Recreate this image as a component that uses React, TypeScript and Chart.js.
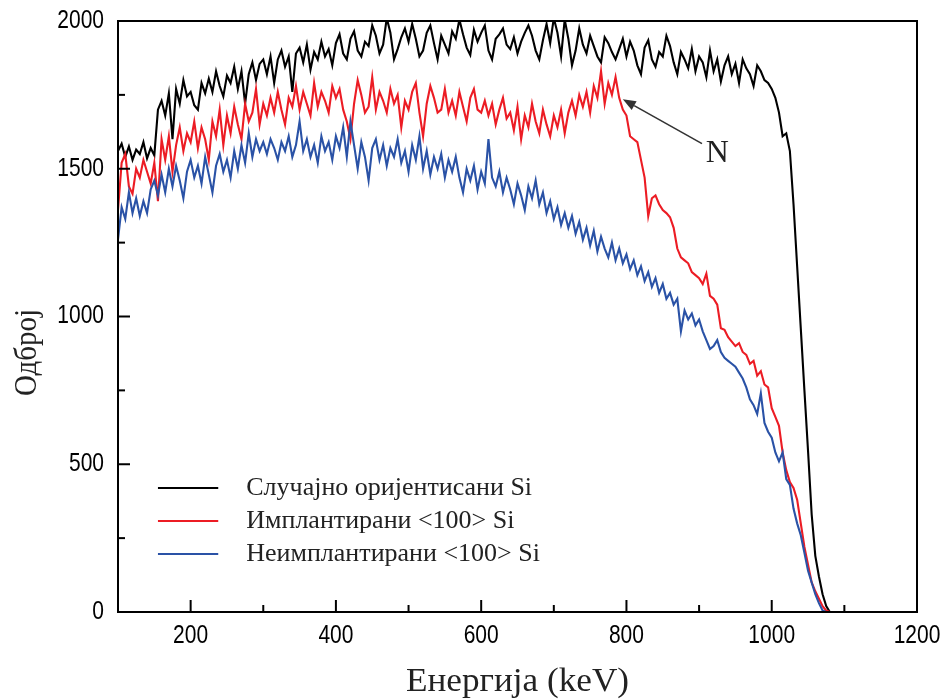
import React, { useEffect, useRef } from "react";
import { Chart, registerables } from "chart.js";

Chart.register(...registerables);

// Energy grid of the spectra (keV): first channel and channel width
const E_START = 100;
const E_STEP = 5;

// Случајно оријентисани Si (black)
const randomSi = [
  1560, 1585, 1540, 1575, 1530, 1565, 1550, 1590, 1535, 1570,
  1545, 1700, 1730, 1680, 1755, 1600, 1770, 1720, 1800, 1745,
  1760, 1715, 1700, 1790, 1755, 1805, 1760, 1830, 1780, 1745,
  1815, 1790, 1845, 1770, 1830, 1720, 1820, 1860, 1800, 1855,
  1870, 1820, 1880, 1790, 1870, 1900, 1845, 1880, 1760, 1890,
  1910, 1860, 1920, 1835, 1895, 1870, 1930, 1880, 1905, 1850,
  1925, 1955, 1890, 1870, 1940, 1965, 1900, 1880, 1930, 1915,
  1985, 1950, 1890, 1920, 2010, 1960, 1870, 1905, 1945, 1975,
  1930, 1990, 1940, 1880, 1900, 1960, 1985, 1925, 1870, 1950,
  1920, 1890, 1965, 1940, 2005, 1955, 1910, 1885, 1970, 1930,
  1960, 1985, 1900, 1870, 1940, 1955, 1975, 1920, 1905, 1945,
  1890, 1930, 1960, 1985, 1950, 1900, 1870, 1935, 1990, 1925,
  2010, 1960, 1880, 2005, 1940, 1850, 1900, 1975, 1920, 1890,
  1950, 1915, 1880, 1860, 1945, 1925, 1895, 1870, 1905, 1940,
  1880, 1930, 1900, 1850, 1820, 1910, 1935, 1870, 1845, 1895,
  1880, 1950, 1915, 1860, 1820, 1895, 1870, 1840, 1905, 1830,
  1880, 1860, 1810, 1900, 1830, 1870, 1795, 1850, 1880, 1820,
  1855, 1790, 1870, 1840, 1820, 1780, 1850, 1830, 1800, 1790,
  1770, 1740, 1690, 1610, 1620, 1560, 1380, 1170, 960, 750,
  545, 330, 190, 120, 60, 20, 0, 0, 0, 0,
  0, 0, 0, 0, 0,
];

// Имплантирани <100> Si (red)
const implanted = [
  1360, 1520, 1550, 1440, 1415, 1500, 1470, 1530, 1490, 1450,
  1520, 1390, 1600, 1530, 1610, 1490, 1580, 1640, 1560, 1620,
  1590, 1660, 1570, 1640, 1600, 1530, 1660, 1610, 1700, 1580,
  1680, 1620, 1710, 1650, 1600, 1720, 1660, 1690, 1770, 1650,
  1720, 1680, 1740, 1690, 1760, 1700, 1650, 1740, 1710, 1780,
  1700, 1760, 1720, 1680, 1790, 1710, 1760, 1730, 1690, 1780,
  1740, 1770, 1700, 1660, 1600, 1720, 1800, 1750, 1690, 1710,
  1810, 1700, 1760, 1730, 1690, 1770, 1720, 1750, 1640, 1730,
  1700, 1760, 1790, 1690, 1610, 1720, 1780, 1740, 1690, 1700,
  1770, 1690, 1730, 1680, 1760, 1710, 1660, 1740, 1770, 1700,
  1690, 1730, 1680, 1720, 1650, 1700, 1740, 1670, 1690, 1630,
  1710, 1600, 1680, 1640, 1720, 1660, 1620, 1700, 1650, 1610,
  1680, 1640, 1700, 1620, 1690, 1730, 1680, 1750, 1710, 1760,
  1690, 1780, 1740, 1830, 1720, 1790, 1750, 1810, 1740, 1700,
  1680, 1610, 1600, 1590, 1530, 1470, 1340, 1400, 1410, 1380,
  1360, 1350, 1336, 1300, 1230, 1200, 1190, 1180, 1150, 1140,
  1130, 1110, 1145, 1070, 1060, 1040, 960, 955, 930, 915,
  900, 910, 880, 870, 840, 850, 800, 815, 770, 760,
  690, 660, 630, 540, 480, 440, 420, 380, 300, 220,
  160, 100, 70, 45, 20, 5, 0, 0, 0, 0,
  0, 0, 0, 0, 0,
];

// Неимплантирани <100> Si (blue)
const unimplanted = [
  1260, 1370, 1330, 1420, 1350, 1400, 1340, 1390, 1350, 1430,
  1460, 1410, 1480, 1420, 1500, 1440, 1510, 1460, 1400, 1490,
  1530, 1470, 1510, 1450, 1540, 1480, 1420, 1510, 1550, 1490,
  1530, 1470, 1560, 1500, 1580, 1520, 1620, 1540, 1600, 1560,
  1590, 1550, 1600, 1570, 1530, 1590, 1560, 1610, 1540, 1580,
  1660, 1560, 1600, 1540, 1580, 1520, 1610, 1560, 1590, 1530,
  1610, 1570, 1640, 1540, 1660, 1580, 1500, 1590, 1540, 1460,
  1570, 1600, 1530, 1580, 1510, 1570, 1540, 1600, 1520, 1560,
  1490, 1580, 1530, 1610, 1500, 1560, 1480, 1540, 1500, 1550,
  1470, 1530, 1490, 1540, 1470, 1420, 1500, 1460, 1510, 1430,
  1490, 1450, 1600, 1470, 1440, 1490, 1420, 1470, 1430, 1380,
  1450, 1410, 1360, 1440, 1400, 1460, 1380, 1420, 1350, 1390,
  1330, 1370, 1310, 1350, 1300, 1340, 1280, 1320, 1260, 1300,
  1240, 1290, 1220, 1270, 1230, 1200, 1250, 1190, 1230, 1180,
  1210, 1160, 1190, 1140, 1170, 1120, 1150, 1100, 1130, 1080,
  1110, 1060, 1080, 1040, 1060, 950, 1020, 990, 1010, 970,
  990, 950, 920, 890, 900, 920, 880, 860, 850, 840,
  830, 810, 790, 760, 720, 700, 670, 740, 640, 610,
  590, 540, 510, 540, 450, 430, 350, 300, 260, 200,
  140, 100, 60, 30, 5, 0, 0, 0, 0, 0,
  0, 0, 0, 0, 0,
];

const seriesNames = ["Случајно оријентисани Si", "Имплантирани <100> Si", "Неимплантирани <100> Si"];
const seriesColors = ["#000000", "#ec1c24", "#2a52a6"];

const xMajorTicks = [200, 400, 600, 800, 1000, 1200];
const xMinorTicks = [100, 300, 500, 700, 900, 1100];
const yMajorTicks = [0, 500, 1000, 1500, 2000];
const yMinorTicks = [250, 750, 1250, 1750];

const xTitle = "Енергија (keV)";
const yTitle = "Одброј";

// Annotation "N": arrow tip (keV, counts) and label position (keV, counts)
const arrowTip = { x: 795, y: 1735 };
const arrowTail = { x: 904, y: 1585 };
const annotationLabelPos = { x: 925, y: 1550 };
const annotationLabel = "N";

function toPoints(values: number[]) {
  return values.map((v, i) => ({ x: E_START + i * E_STEP, y: v }));
}

function fitText(ctx: CanvasRenderingContext2D, text: string, cx: number, cy: number, targetWidth: number) {
  const w = ctx.measureText(text).width;
  const s = targetWidth / w;
  ctx.save();
  ctx.translate(cx, cy);
  ctx.scale(s, 1);
  ctx.textAlign = "center";
  ctx.textBaseline = "middle";
  ctx.fillText(text, 0, 0);
  ctx.restore();
}

const overlayPlugin = {
  id: "overlay",
  afterDraw(chart: any) {
    const ctx: CanvasRenderingContext2D = chart.ctx;
    const { left, right, top, bottom } = chart.chartArea;
    const xs = chart.scales.x;
    const ys = chart.scales.y;
    ctx.save();

    // frame
    ctx.strokeStyle = "#000";
    ctx.lineWidth = 2;
    ctx.strokeRect(left, top, right - left, bottom - top);

    // ticks (inward)
    const tick = (x1: number, y1: number, x2: number, y2: number) => {
      ctx.beginPath();
      ctx.moveTo(x1, y1);
      ctx.lineTo(x2, y2);
      ctx.stroke();
    };
    ctx.lineWidth = 2;
    xMajorTicks.forEach((v) => { const p = xs.getPixelForValue(v); tick(p, bottom, p, bottom - 12); });
    xMinorTicks.forEach((v) => { const p = xs.getPixelForValue(v); tick(p, bottom, p, bottom - 7); });
    yMajorTicks.forEach((v) => { const p = ys.getPixelForValue(v); tick(left, p, left + 12, p); });
    yMinorTicks.forEach((v) => { const p = ys.getPixelForValue(v); tick(left, p, left + 7, p); });

    // tick labels (narrow sans)
    ctx.fillStyle = "#000";
    ctx.font = '25px "Liberation Sans", Arial, sans-serif';
    ctx.textBaseline = "middle";
    const sx = 0.84;
    xMajorTicks.forEach((v) => {
      const p = xs.getPixelForValue(v);
      ctx.save();
      ctx.translate(p, bottom + 24);
      ctx.scale(sx, 1);
      ctx.textAlign = "center";
      ctx.fillText(String(v), 0, 0);
      ctx.restore();
    });
    yMajorTicks.forEach((v) => {
      const p = ys.getPixelForValue(v);
      ctx.save();
      ctx.translate(left - 14, p);
      ctx.scale(sx, 1);
      ctx.textAlign = "right";
      ctx.fillText(String(v), 0, 0);
      ctx.restore();
    });

    // axis titles
    ctx.fillStyle = "#222";
    ctx.font = '33px "Liberation Serif", serif';
    fitText(ctx, xTitle, (left + right) / 2, 682, 223);
    ctx.save();
    ctx.translate(28, (top + bottom) / 2 + 36);
    ctx.rotate(-Math.PI / 2);
    ctx.font = '32px "Liberation Serif", serif';
    fitText(ctx, yTitle, 0, 0, 87);
    ctx.restore();

    // legend
    const legendRows = [ys.getPixelForValue(420), ys.getPixelForValue(308), ys.getPixelForValue(196)];
    const lx1 = xs.getPixelForValue(155);
    const lx2 = xs.getPixelForValue(238);
    ctx.font = '26px "Liberation Serif", serif';
    seriesNames.forEach((name, i) => {
      const y = Math.round(legendRows[i]);
      ctx.strokeStyle = seriesColors[i];
      ctx.lineWidth = 2.2;
      tick(lx1, y, lx2, y);
      ctx.fillStyle = "#222";
      ctx.textAlign = "left";
      ctx.textBaseline = "middle";
      ctx.fillText(name, lx2 + 28, y);
    });

    // annotation arrow
    const tx = xs.getPixelForValue(arrowTip.x);
    const ty = ys.getPixelForValue(arrowTip.y);
    const ax = xs.getPixelForValue(arrowTail.x);
    const ay = ys.getPixelForValue(arrowTail.y);
    const ang = Math.atan2(ty - ay, tx - ax);
    ctx.strokeStyle = "#333";
    ctx.fillStyle = "#333";
    ctx.lineWidth = 1.6;
    const headLen = 13;
    const bx = tx - headLen * Math.cos(ang);
    const by = ty - headLen * Math.sin(ang);
    tick(ax, ay, bx, by);
    ctx.beginPath();
    ctx.moveTo(tx, ty);
    ctx.lineTo(bx + 5 * Math.sin(ang), by - 5 * Math.cos(ang));
    ctx.lineTo(bx - 5 * Math.sin(ang), by + 5 * Math.cos(ang));
    ctx.closePath();
    ctx.fill();

    ctx.fillStyle = "#222";
    ctx.font = '32px "Liberation Serif", serif';
    ctx.textAlign = "center";
    ctx.textBaseline = "middle";
    ctx.fillText(annotationLabel, xs.getPixelForValue(annotationLabelPos.x), ys.getPixelForValue(annotationLabelPos.y));

    ctx.restore();
  },
};

export default function App() {
  const canvasRef = useRef<HTMLCanvasElement | null>(null);

  useEffect(() => {
    document.body.style.margin = "0";
    const canvas = canvasRef.current;
    if (!canvas) return;
    const datasets = [randomSi, implanted, unimplanted].map((vals, i) => ({
      label: seriesNames[i],
      data: toPoints(vals),
      borderColor: seriesColors[i],
      backgroundColor: seriesColors[i],
      borderWidth: 2.1,
      pointRadius: 0,
      tension: 0,
      fill: false,
      order: 3 - i,
      clip: 0,
    }));
    const chart = new Chart(canvas, {
      type: "line",
      data: { datasets },
      options: {
        animation: false,
        responsive: false,
        maintainAspectRatio: false,
        devicePixelRatio: 1,
        layout: { padding: { left: 118, right: 29, top: 21, bottom: 88 } },
        plugins: { legend: { display: false }, tooltip: { enabled: false } },
        scales: {
          x: {
            type: "linear",
            min: 100,
            max: 1200,
            grid: { display: false },
            border: { display: false },
            ticks: { display: false },
            afterFit: (s: any) => { s.height = 0; },
          },
          y: {
            type: "linear",
            min: 0,
            max: 2000,
            grid: { display: false },
            border: { display: false },
            ticks: { display: false },
            afterFit: (s: any) => { s.width = 0; },
          },
        },
      },
      plugins: [overlayPlugin],
    });
    return () => chart.destroy();
  }, []);

  return (
    <div style={{ width: 946, height: 700, background: "#fff" }}>
      <canvas ref={canvasRef} width={946} height={700} style={{ display: "block" }} />
    </div>
  );
}
